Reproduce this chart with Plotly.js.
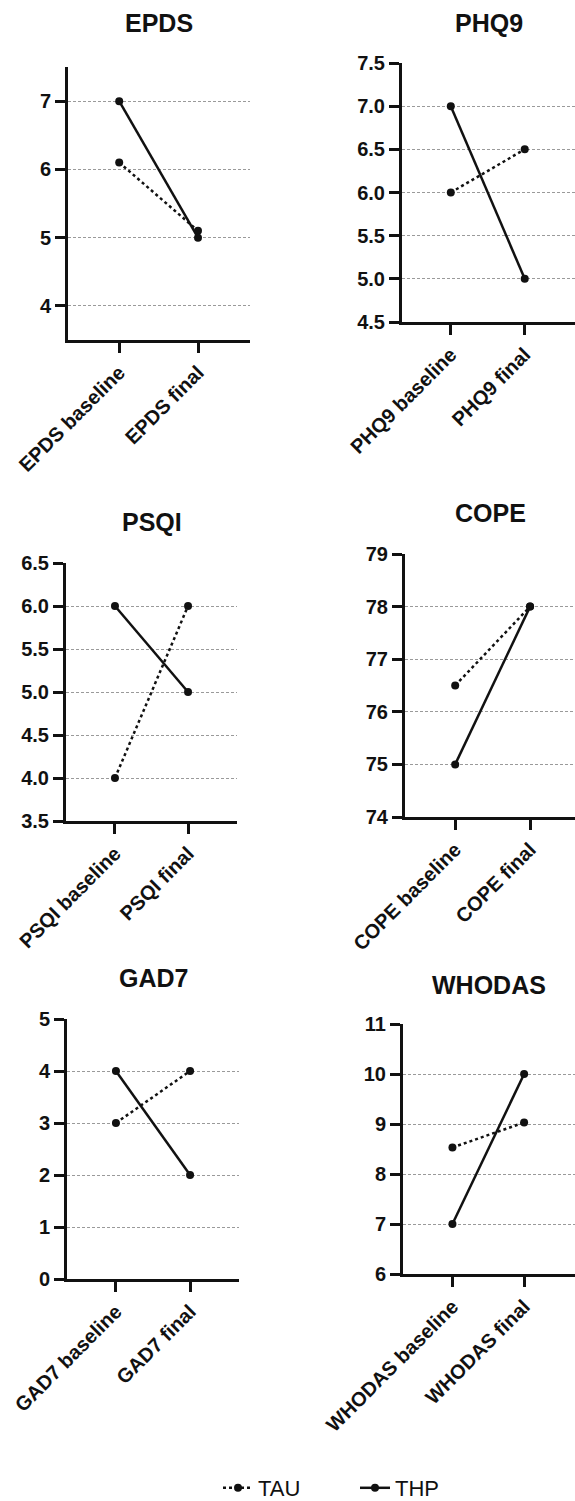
<!DOCTYPE html>
<html>
<head>
<meta charset="utf-8">
<script src="https://cdn.plot.ly/plotly-3.0.1.min.js"></script>
<style>html,body{margin:0;padding:0;background:#fff;}#chart{width:575px;height:1501px;}</style>
</head>
<body>
<div id="chart"></div>
<script>
// ---- data ----
const panelTitles = ["EPDS", "PHQ9", "PSQI", "COPE", "GAD7", "WHODAS"];
const seriesNames = ["TAU", "THP"];
const timepointSuffixes = ["baseline", "final"];
const tauValues = [
  [6.1, 5.1],   // EPDS
  [6.0, 6.5],   // PHQ9
  [4.0, 6.0],   // PSQI
  [76.5, 78.0], // COPE
  [3.0, 4.0],   // GAD7
  [8.53, 9.03]  // WHODAS
];
const thpValues = [
  [7.0, 5.0],
  [7.0, 5.0],
  [6.0, 5.0],
  [75.0, 78.0],
  [4.0, 2.0],
  [7.0, 10.0]
];
const yTickValues = [
  [4, 5, 6, 7],
  [4.5, 5.0, 5.5, 6.0, 6.5, 7.0, 7.5],
  [3.5, 4.0, 4.5, 5.0, 5.5, 6.0, 6.5],
  [74, 75, 76, 77, 78, 79],
  [0, 1, 2, 3, 4, 5],
  [6, 7, 8, 9, 10, 11]
];
const yRanges = [[3.5, 7.5], [4.5, 7.5], [3.5, 6.5], [74, 79], [0, 5], [6, 11]];
const yTickFormats = ["d", ".1f", ".1f", "d", "d", "d"];

// ---- layout geometry (pixels in the 575x1501 page) ----
const W = 575, H = 1501;
const boxes = [
  {l: 68, r: 250, t: 67, b: 340, title: 23, xr: [-0.65, 1.66]},
  {l: 402, r: 575, t: 63, b: 322, title: 23, xr: [-0.66, 1.68]},
  {l: 66, r: 237, t: 563, b: 821, title: 522, xr: [-0.67, 1.67]},
  {l: 405, r: 575, t: 554, b: 817, title: 513, xr: [-0.67, 1.6]},
  {l: 67, r: 239, t: 1019, b: 1279, title: 978, xr: [-0.66, 1.66]},
  {l: 403, r: 575, t: 1024, b: 1274, title: 985, xr: [-0.69, 1.71]}
];
const px = x => x / W;
const py = y => 1 - y / H;

const FONT = "Liberation Sans, Arial, Helvetica, sans-serif";
const traces = [];
const layout = {
  width: W, height: H,
  margin: {l: 0, r: 0, t: 0, b: 0, autoexpand: false},
  paper_bgcolor: "#fff", plot_bgcolor: "rgba(0,0,0,0)",
  showlegend: true,
  legend: {
    orientation: "h", x: px(218), xanchor: "left", y: py(1488), yanchor: "middle",
    font: {family: FONT, size: 22, color: "#111"}, itemwidth: 30, traceorder: "normal",
    entrywidth: 92, bgcolor: "rgba(0,0,0,0)"
  },
  annotations: [],
  font: {family: FONT, color: "#111"}
};

panelTitles.forEach((name, i) => {
  const n = i + 1;
  const cats = timepointSuffixes.map(s => name + " " + s);
  const xa = "x" + (n === 1 ? "" : n), ya = "y" + (n === 1 ? "" : n);
  traces.push({
    x: cats, y: tauValues[i], name: seriesNames[0], xaxis: xa, yaxis: ya,
    type: "scatter", mode: "lines+markers", legendgroup: "TAU", showlegend: i === 0,
    line: {color: "#111", width: 2.5, dash: "dot"},
    marker: {color: "#111", size: 8}
  });
  traces.push({
    x: cats, y: thpValues[i], name: seriesNames[1], xaxis: xa, yaxis: ya,
    type: "scatter", mode: "lines+markers", legendgroup: "THP", showlegend: i === 0,
    line: {color: "#111", width: 2.5},
    marker: {color: "#111", size: 8}
  });
  const b = boxes[i];
  const key = n === 1 ? "" : n;
  layout["xaxis" + key] = {
    domain: [px(b.l), px(b.r)], anchor: ya, type: "category",
    categoryorder: "array", categoryarray: cats, range: b.xr,
    showline: true, linecolor: "#111", linewidth: 3,
    showgrid: false, zeroline: false,
    ticks: "outside", ticklen: 10, tickwidth: 3, tickcolor: "#111",
    tickangle: -45, tickfont: {family: FONT, size: 20, weight: 700, color: "#111"},
    fixedrange: true
  };
  layout["yaxis" + key] = {
    domain: [py(b.b), py(b.t)], anchor: xa, range: yRanges[i],
    tickmode: "array", tickvals: yTickValues[i], tickformat: yTickFormats[i],
    showline: true, linecolor: "#111", linewidth: 3,
    showgrid: true, gridcolor: "#9a9a9a", gridwidth: 1, griddash: "3px,2px",
    zeroline: false,
    ticks: "outside", ticklen: 10, tickwidth: 3, tickcolor: "#111",
    tickfont: {family: FONT, size: 20, weight: 700, color: "#111"},
    fixedrange: true
  };
  layout.annotations.push({
    text: name, xref: "paper", yref: "paper",
    x: px((b.l + b.r) / 2), y: py(b.title), xanchor: "center", yanchor: "middle",
    showarrow: false, font: {family: FONT, size: 25, weight: 700, color: "#111"}
  });
});

Plotly.newPlot("chart", traces, layout, {staticPlot: true, displayModeBar: false});
</script>
</body>
</html>
